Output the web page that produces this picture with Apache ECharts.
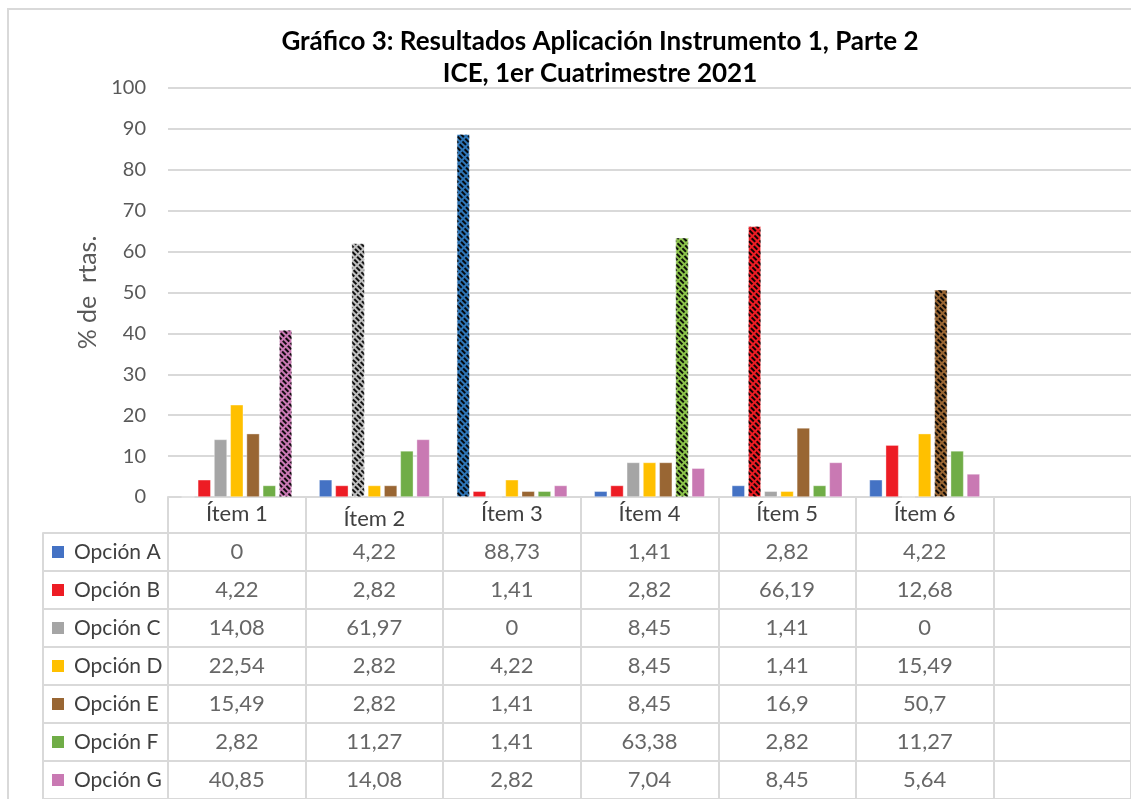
<!DOCTYPE html>
<html>
<head>
<meta charset="utf-8">
<script src="https://cdn.jsdelivr.net/npm/echarts@6/dist/echarts.min.js"></script>
<style>html,body{margin:0;padding:0;background:#fff}#c{width:1131px;height:799px}</style>
</head>
<body>
<div id="c"></div>
<script>
// ---- data ----
const categories = ['Ítem 1', 'Ítem 2', 'Ítem 3', 'Ítem 4', 'Ítem 5', 'Ítem 6', ''];
const optionNames = ['Opción A', 'Opción B', 'Opción C', 'Opción D', 'Opción E', 'Opción F', 'Opción G'];
const opcionA = [0, 4.22, 88.73, 1.41, 2.82, 4.22];
const opcionB = [4.22, 2.82, 1.41, 2.82, 66.19, 12.68];
const opcionC = [14.08, 61.97, 0, 8.45, 1.41, 0];
const opcionD = [22.54, 2.82, 4.22, 8.45, 1.41, 15.49];
const opcionE = [15.49, 2.82, 1.41, 8.45, 16.9, 50.7];
const opcionF = [2.82, 11.27, 1.41, 63.38, 2.82, 11.27];
const opcionG = [40.85, 14.08, 2.82, 7.04, 8.45, 5.64];
const yTicks = { min: 0, max: 100, interval: 10 };
const titleText = 'Gráfico 3: Resultados Aplicación Instrumento 1, Parte 2\nICE, 1er Cuatrimestre 2021';
const yName = '% de  rtas.';

// ---- styling ----
const colors = ['#4472C4', '#ED1C24', '#A5A5A5', '#FFC000', '#996633', '#70AD47', '#C979B3'];
const hatchBg = ['#2E75B6', '#ED1C24', '#BFBFBF', '#FFC000', '#996633', '#8BC34A', '#C979B3'];
const FONT = 'Lato';
const gridLine = '#D9D9D9';

const seriesValues = [opcionA, opcionB, opcionC, opcionD, opcionE, opcionF, opcionG];

// highest option per item gets the pattern fill
const maxIdx = categories.map((c, i) => {
  if (i >= opcionA.length) return -1;
  let best = 0;
  seriesValues.forEach((arr, s) => { if (arr[i] > seriesValues[best][i]) best = s; });
  return best;
});

const barSeries = seriesValues.map((arr, s) => ({
  name: optionNames[s],
  type: 'bar',
  xAxisIndex: 0,
  yAxisIndex: 0,
  barWidth: 13,
  barGap: '25%',
  itemStyle: { color: colors[s], borderColor: 'rgba(255,255,255,0.6)', borderWidth: 0.6 },
  data: categories.map((c, i) => {
    if (i >= arr.length) return null;
    if (maxIdx[i] === s) {
      return {
        value: arr[i],
        itemStyle: {
          color: hatchBg[s],
          decal: {
            symbol: 'rect', symbolSize: 1, color: 'rgba(0,0,0,0.92)',
            dashArrayX: [5, 2], dashArrayY: [2, 1.5], rotation: Math.PI / 4
          }
        }
      };
    }
    return arr[i];
  })
}));

const tableData = [];
seriesValues.forEach((arr, s) => arr.forEach((v, i) => tableData.push([i, s, v])));

const rich = { g: { width: 10 }, t: { fontFamily: FONT, fontSize: 21, color: '#404040' } };
colors.forEach((c, s) => { rich['s' + s] = { width: 12, height: 12, backgroundColor: c }; });

const option = {
  animation: false,
  backgroundColor: '#fff',
  textStyle: { fontFamily: FONT },
  graphic: [{
    type: 'rect', silent: true, z: -10,
    shape: { x: 8, y: 9, width: 1300, height: 900 },
    style: { fill: 'none', stroke: gridLine, lineWidth: 2 }
  }],
  title: {
    text: titleText,
    left: 595, top: 21, textAlign: 'center',
    textStyle: { fontFamily: FONT, fontSize: 26, fontWeight: 'bold', color: '#000', lineHeight: 32 }
  },
  grid: [
    { left: 168, right: -6.5, top: 88, bottom: 302 },
    { left: 168, right: -6.5, top: 533, bottom: -4 },
    { left: 43, width: 125, top: 533, bottom: -4 }
  ],
  xAxis: [
    {
      gridIndex: 0, type: 'category',
      data: categories.map((c, i) => i === 1 ? { value: c, textStyle: { padding: [5, 0, 0, 0] } } : c),
      axisLine: { show: true, lineStyle: { color: gridLine, width: 2 } },
      axisTick: { show: true, length: 36, interval: 0, lineStyle: { color: gridLine, width: 2 } },
      axisLabel: { interval: 0, margin: 6, fontSize: 22, color: '#404040', fontFamily: FONT },
      splitLine: { show: false }
    },
    {
      gridIndex: 1, type: 'category', data: categories,
      axisLine: { show: false }, axisTick: { show: false }, axisLabel: { show: false },
      splitLine: { show: true, interval: 0, lineStyle: { color: gridLine, width: 2 } }
    },
    {
      gridIndex: 2, type: 'value', show: false
    }
  ],
  yAxis: [
    {
      gridIndex: 0, type: 'value', min: yTicks.min, max: yTicks.max, interval: yTicks.interval,
      name: yName, nameLocation: 'middle', nameGap: 60, nameRotate: 90,
      nameTextStyle: { fontSize: 25, color: '#595959', fontFamily: FONT },
      axisLine: { show: false }, axisTick: { show: false },
      axisLabel: { fontSize: 20, color: '#595959', margin: 22, fontFamily: FONT },
      splitLine: { show: true, lineStyle: { color: gridLine, width: 2 } }
    },
    {
      gridIndex: 1, type: 'category', data: optionNames, inverse: true,
      axisLine: { show: false }, axisTick: { show: false }, axisLabel: { show: false },
      splitLine: { show: true, interval: 0, lineStyle: { color: gridLine, width: 2 } }
    },
    {
      gridIndex: 2, type: 'category', data: optionNames, inverse: true,
      axisLine: { show: true, lineStyle: { color: gridLine, width: 2 } },
      axisTick: { show: false },
      axisLabel: {
        inside: true, margin: 9, interval: 0,
        formatter: (v, idx) => '{s' + optionNames.indexOf(v) + '|}{g|}{t|' + v + '}',
        rich: rich
      },
      splitLine: { show: true, interval: 0, lineStyle: { color: gridLine, width: 2 } }
    }
  ],
  series: barSeries.concat([{
    type: 'scatter', xAxisIndex: 1, yAxisIndex: 1,
    symbolSize: 0, itemStyle: { color: 'transparent' },
    label: {
      show: true, position: 'inside', fontSize: 22, color: '#404040', fontFamily: FONT,
      formatter: p => String(p.value[2]).replace('.', ',')
    },
    data: tableData
  }])
};

const chart = echarts.init(document.getElementById('c'), null, { renderer: 'canvas' });
chart.setOption(option);
</script>
</body>
</html>
